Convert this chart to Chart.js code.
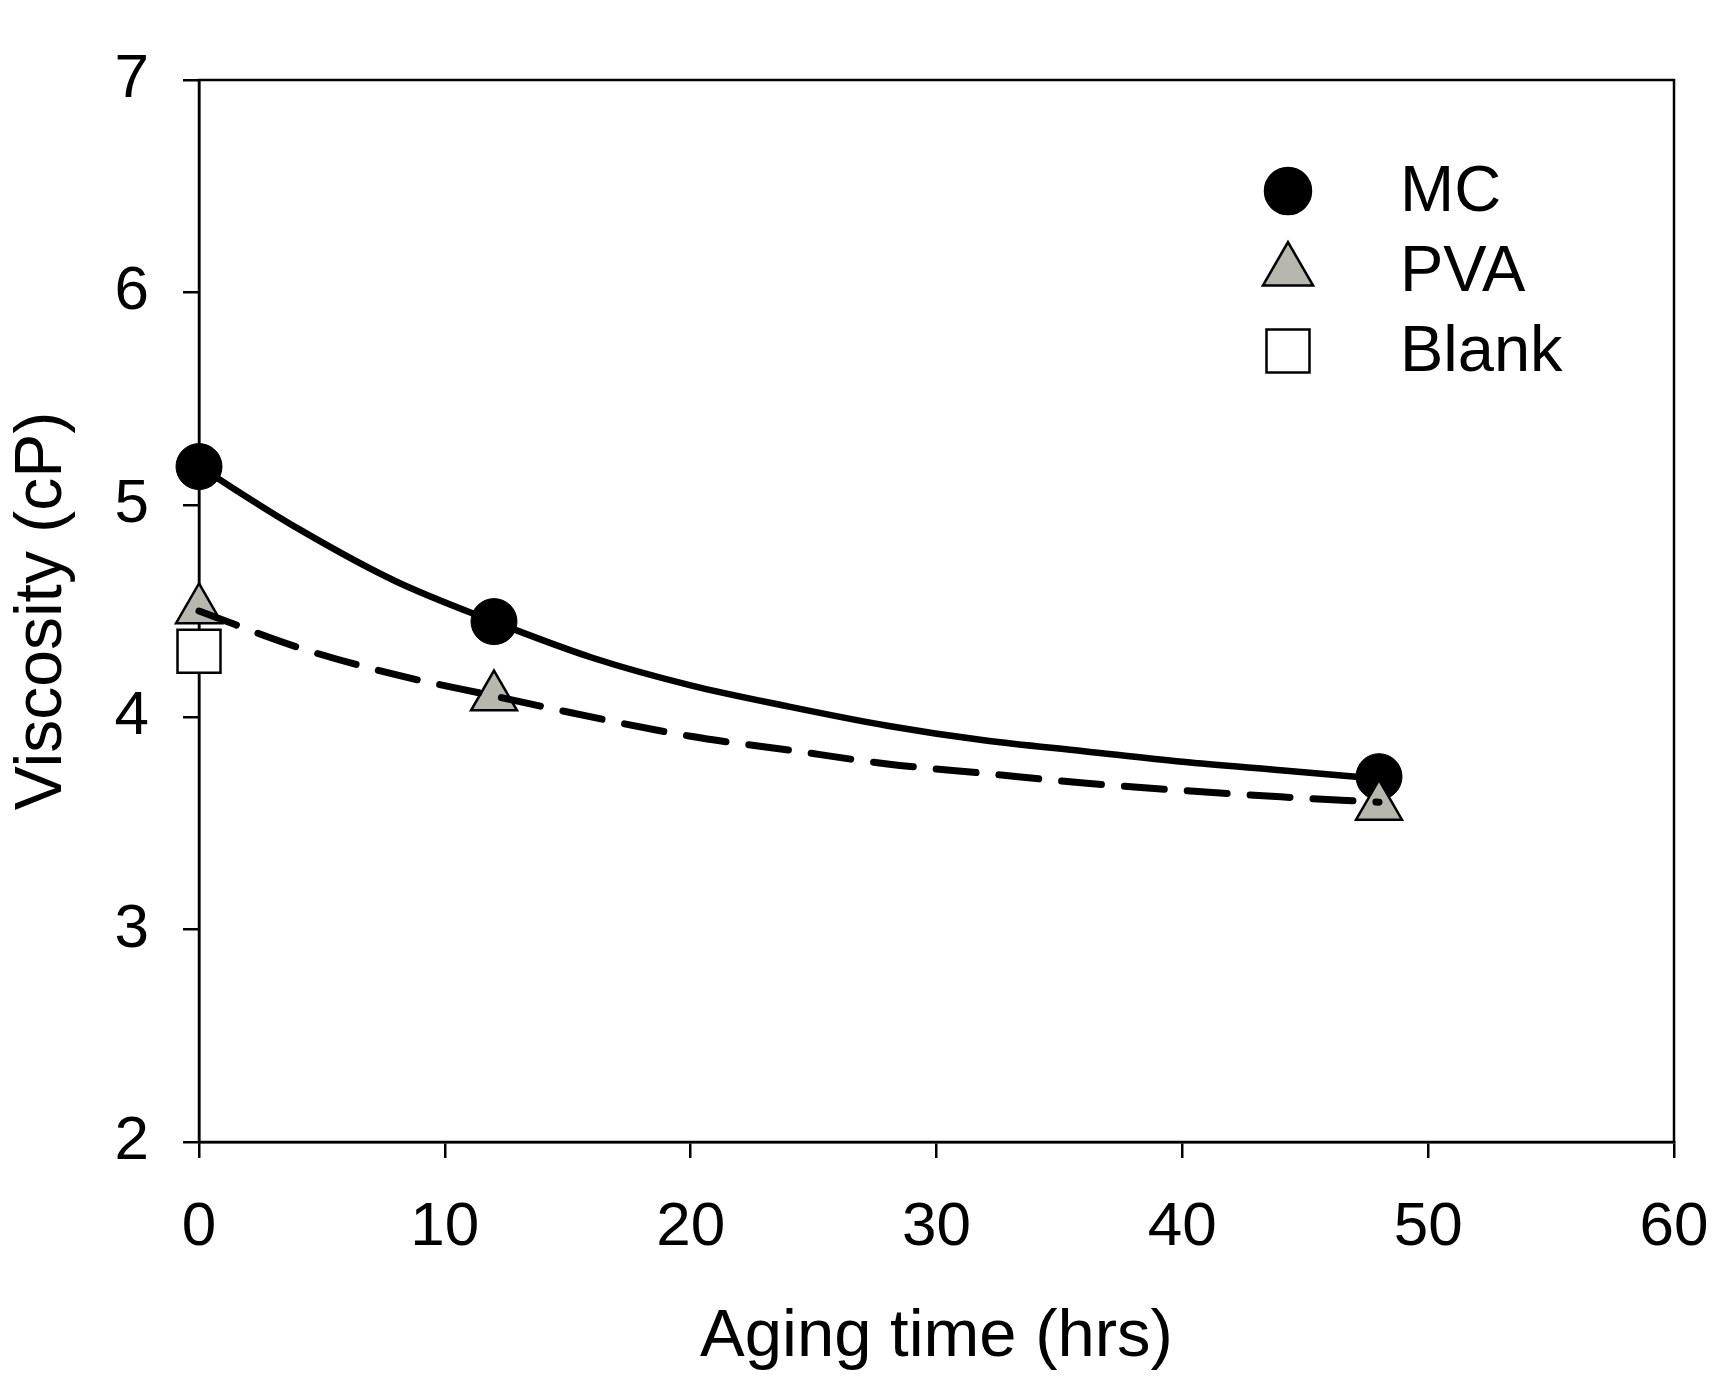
<!DOCTYPE html>
<html>
<head>
<meta charset="utf-8">
<script src="https://cdn.jsdelivr.net/npm/chart.js@4/dist/chart.umd.min.js"></script>
<style>
  html, body { margin: 0; padding: 0; background: #fff; }
  #wrap { width: 1736px; height: 1379px; }
</style>
</head>
<body>
<div id="wrap"><canvas id="c" width="1736" height="1379"></canvas></div>
<script>
// ---- data ----
const seriesNames = ['MC', 'PVA', 'Blank'];
const agingTime = [0, 12, 48];
const mcValues = [5.18, 4.45, 3.72];
const pvaValues = [4.505, 4.095, 3.58];
const blankTime = [0];
const blankValues = [4.31];
// fitted curves
const fitTime = [0, 4, 8, 12, 16, 20, 24, 28, 32, 36, 40, 44, 48];
const mcFit = [5.18, 4.89, 4.64, 4.45, 4.28, 4.15, 4.05, 3.96, 3.89, 3.84, 3.79, 3.75, 3.71];
const pvaFit = [4.50, 4.33, 4.20, 4.10, 4.00, 3.91, 3.845, 3.78, 3.735, 3.69, 3.655, 3.625, 3.60];
const xTicks = [0, 10, 20, 30, 40, 50, 60];
const yTicks = [2, 3, 4, 5, 6, 7];
const xTitle = 'Aging time (hrs)';
const yTitle = 'Viscosity (cP)';

const FONT = "'Liberation Sans', Arial, Helvetica, sans-serif";
const GREY = '#b7b7ad';

function pts(xs, ys) { return xs.map((x, i) => ({ x: x, y: ys[i] })); }

const frame = {
  id: 'frame',
  beforeDatasetsDraw(chart) {
    const { ctx, chartArea: a } = chart;
    ctx.save();
    ctx.strokeStyle = '#000';
    ctx.lineWidth = 2.5;
    ctx.strokeRect(a.left, a.top, a.right - a.left, a.bottom - a.top);
    ctx.restore();
  }
};

const legendPlugin = {
  id: 'customLegend',
  afterDraw(chart) {
    const ctx = chart.ctx;
    const items = [
      { label: seriesNames[0], style: 'circle', r: 23, fill: '#000', y: 191 },
      { label: seriesNames[1], style: 'triangle', r: 29, fill: GREY, y: 271 },
      { label: seriesNames[2], style: 'rect', r: 30.4, fill: '#fff', y: 351 }
    ];
    ctx.save();
    items.forEach(it => {
      ctx.fillStyle = it.fill;
      ctx.strokeStyle = '#000';
      ctx.lineWidth = 2.5;
      Chart.helpers.drawPoint(ctx, { pointStyle: it.style, radius: it.r, borderWidth: 2.5, rotation: 0 }, 1288, it.y);
      ctx.fillStyle = '#000';
      ctx.font = '65px ' + FONT;
      ctx.textAlign = 'left';
      ctx.textBaseline = 'middle';
      ctx.fillText(it.label, 1400, it.y + 2);
    });
    ctx.restore();
  }
};

const tickCommon = {
  color: '#000',
  font: { family: FONT, size: 62 },
};

new Chart(document.getElementById('c'), {
  type: 'scatter',
  data: {
    datasets: [
      { label: 'PVA fit', data: pts(fitTime, pvaFit), showLine: true, borderColor: '#000', borderWidth: 7,
        borderDash: [40, 23], borderCapStyle: 'round', cubicInterpolationMode: 'monotone', pointRadius: 0, fill: false, clip: false },
      { label: 'MC fit', data: pts(fitTime, mcFit), showLine: true, borderColor: '#000', borderWidth: 6.5,
        borderCapStyle: 'round', cubicInterpolationMode: 'monotone', pointRadius: 0, fill: false, clip: false },
      { label: seriesNames[2], data: pts(blankTime, blankValues), pointStyle: 'rect', pointRadius: 30.4,
        backgroundColor: '#fff', borderColor: '#000', borderWidth: 2.5, clip: false },
      { label: seriesNames[1], data: pts(agingTime, pvaValues), pointStyle: 'triangle', pointRadius: 26.5,
        backgroundColor: GREY, borderColor: '#000', borderWidth: 2.5, clip: false },
      { label: seriesNames[0], data: pts(agingTime, mcValues), pointStyle: 'circle', pointRadius: 23,
        backgroundColor: '#000', borderColor: '#000', borderWidth: 1, clip: false }
    ]
  },
  options: {
    responsive: false,
    animation: false,
    events: [],
    layout: { padding: { top: 80, right: 62, left: 0, bottom: 0 } },
    plugins: { legend: { display: false }, tooltip: { enabled: false } },
    scales: {
      x: {
        type: 'linear', min: 0, max: 60,
        afterBuildTicks(s) { s.ticks = xTicks.map(v => ({ value: v })); },
        afterFit(s) { s.height = 237; s.paddingLeft = 0; s.paddingRight = 0; },
        border: { display: true, color: '#000', width: 2.5 },
        grid: { drawOnChartArea: false, drawTicks: true, tickLength: 16, color: '#000', lineWidth: 2.5 },
        ticks: Object.assign({ padding: 33, maxRotation: 0 }, tickCommon),
        title: { display: true, text: xTitle, color: '#000', font: { family: FONT, size: 67, lineHeight: 1.2 }, padding: { top: 0, bottom: 1 } }
      },
      y: {
        type: 'linear', min: 2, max: 7,
        afterBuildTicks(s) { s.ticks = yTicks.map(v => ({ value: v })); },
        afterFit(s) { s.width = 199; s.paddingTop = 0; s.paddingBottom = 0; },
        border: { display: true, color: '#000', width: 2.5 },
        grid: { drawOnChartArea: false, drawTicks: true, tickLength: 16, color: '#000', lineWidth: 2.5 },
        ticks: Object.assign({ padding: 34 }, tickCommon),
        title: { display: true, text: yTitle, color: '#000', font: { family: FONT, size: 66, lineHeight: 1.2 }, padding: { top: 3, bottom: 0 } }
      }
    }
  },
  plugins: [frame, legendPlugin]
});
</script>
</body>
</html>
